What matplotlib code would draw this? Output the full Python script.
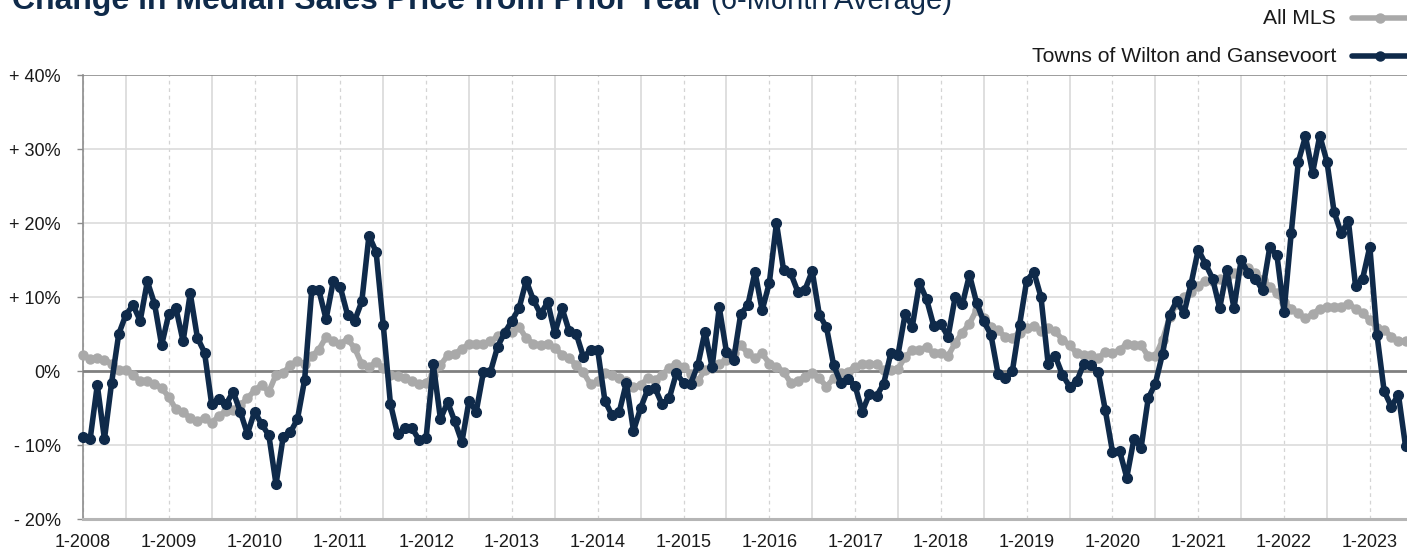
import matplotlib
matplotlib.use("Agg")
import matplotlib.pyplot as plt
from matplotlib.lines import Line2D
from matplotlib.ticker import FixedLocator
import numpy as np

# --- data: monthly values, Jan 2008 .. Jun 2023 (% change, 6-month avg) ---
all_mls = [
    2.2, 1.6, 1.8, 1.5, 1.0, 0.1, 0.1, -0.5, -1.4, -1.4, -1.7, -2.3,
    -3.5, -5.2, -5.5, -6.4, -6.7, -6.4, -7.0, -6.1, -5.4, -5.3, -4.6, -3.7,
    -2.6, -1.9, -2.8, -0.5, -0.3, 0.8, 1.3, 1.0, 2.0, 2.9, 4.6, 4.0,
    3.7, 4.3, 3.1, 0.9, 0.5, 1.2, 0.4, -0.5, -0.7, -0.9, -1.3, -1.7,
    -1.6, -0.5, 0.8, 2.1, 2.3, 3.0, 3.6, 3.6, 3.7, 4.0, 4.7, 5.3,
    5.3, 6.0, 4.4, 3.7, 3.5, 3.7, 3.1, 2.2, 1.7, 0.8, -0.2, -1.8,
    -1.4, -0.3, -0.6, -1.0, -1.3, -2.2, -1.9, -1.0, -1.2, -0.5, 0.4, 1.0,
    0.6, -0.4, -1.4, 0.2, 0.4, 1.0, 1.5, 2.4, 3.5, 2.4, 1.7, 2.4,
    1.0, 0.6, -0.1, -1.6, -1.3, -0.8, -0.3, -1.0, -2.1, -1.0, -0.3, -0.1,
    0.6, 0.9, 1.0, 0.9, 0.1, 0.2, 0.3, 1.9, 2.8, 2.9, 3.2, 2.4,
    2.5, 2.0, 3.8, 5.2, 6.4, 8.3, 7.1, 6.0, 5.5, 4.6, 4.5, 5.2,
    5.8, 6.1, 5.4, 5.8, 5.4, 4.2, 3.5, 2.4, 2.2, 2.2, 1.7, 2.6,
    2.5, 2.8, 3.7, 3.5, 3.5, 2.0, 2.0, 4.2, 7.3, 9.1, 10.0, 10.7,
    11.5, 12.1, 12.1, 12.5, 12.7, 13.2, 13.7, 13.9, 13.2, 12.3, 11.4, 10.5,
    9.3, 8.4, 7.8, 7.1, 7.7, 8.4, 8.6, 8.7, 8.7, 9.1, 8.4, 7.8,
    6.9, 5.8, 5.6, 4.6, 4.0, 4.0,
]

wilton = [
    -8.9, -9.2, -1.9, -9.2, -1.6, 5.0, 7.6, 8.9, 6.8, 12.1, 9.1, 3.5,
    7.7, 8.5, 4.0, 10.5, 4.5, 2.5, -4.5, -3.8, -4.5, -2.8, -5.5, -8.5,
    -5.5, -7.2, -8.7, -15.3, -8.9, -8.3, -6.5, -1.2, 11.0, 10.9, 7.0, 12.1,
    11.3, 7.6, 6.8, 9.4, 18.3, 16.1, 6.2, -4.4, -8.5, -7.7, -7.7, -9.3,
    -9.0, 0.9, -6.5, -4.2, -6.8, -9.6, -4.0, -5.5, -0.2, -0.1, 3.3, 5.2,
    6.8, 8.5, 12.2, 9.6, 7.7, 9.3, 5.1, 8.5, 5.4, 5.0, 1.9, 2.8,
    2.8, -4.0, -6.0, -5.6, -1.6, -8.1, -5.0, -2.5, -2.3, -4.5, -3.7, -0.3,
    -1.6, -1.7, 0.8, 5.3, 0.5, 8.6, 2.6, 1.5, 7.7, 8.9, 13.4, 8.2,
    11.9, 20.0, 13.6, 13.2, 10.7, 11.0, 13.5, 7.6, 5.9, 0.8, -1.6, -1.1,
    -2.0, -5.5, -3.1, -3.4, -1.7, 2.4, 2.2, 7.7, 6.0, 11.9, 9.7, 6.1,
    6.4, 4.6, 10.0, 9.0, 13.0, 9.2, 6.7, 4.9, -0.4, -1.0, 0.0, 6.2,
    12.2, 13.4, 10.0, 1.0, 2.0, -0.5, -2.1, -1.4, 1.0, 0.8, -0.1, -5.3,
    -10.9, -10.8, -14.4, -9.2, -10.4, -3.7, -1.7, 2.3, 7.6, 9.5, 7.8, 11.8,
    16.4, 14.5, 12.5, 8.5, 13.6, 8.5, 15.0, 13.2, 12.5, 10.9, 16.7, 15.7,
    8.0, 18.6, 28.3, 31.7, 26.8, 31.8, 28.3, 21.5, 18.6, 20.3, 11.5, 12.5,
    16.8, 4.9, -2.7, -4.8, -3.2, -10.2,
]

years = list(range(2008, 2024))
x_labels = [f"1-{y}" for y in years]
y_ticks = [-20, -10, 0, 10, 20, 30, 40]
y_labels = ["- 20%", "- 10%", "0%", "+ 10%", "+ 20%", "+ 30%", "+ 40%"]

NAVY = "#0f2a4a"
GRAY = "#a9a9a9"
TEXT = "#1a1a1a"

plt.rcParams["font.family"] = ["Liberation Sans", "DejaVu Sans"]

W, H = 1407, 550
fig = plt.figure(figsize=(W / 100, H / 100), dpi=100)
ax = fig.add_axes([83 / W, 1 - 519 / H, 1 - 83 / W, (519 - 75) / H])

months = np.arange(len(wilton))
ax.plot(months, all_mls, color=GRAY, lw=4, marker="o", ms=6.5,
        solid_capstyle="round", solid_joinstyle="round", zorder=4, clip_on=False)
ax.plot(months, wilton, color=NAVY, lw=4, marker="o", ms=7,
        solid_capstyle="round", solid_joinstyle="round", zorder=5, clip_on=False)

ax.set_xlim(0, 185.2)
ax.set_ylim(-20, 40)

# x axis: labels on Jan, solid grid on Jul, dashed grid on Jan
jan_pos = [12 * i for i in range(len(years))]
ax.xaxis.set_major_locator(FixedLocator(jan_pos))
ax.set_xticklabels(x_labels)
ax.xaxis.set_minor_locator(FixedLocator([6 + 12 * i for i in range(len(years))]))
ax.grid(True, axis="x", which="major", color="#d4d4d4", lw=0.9, ls=(0, (3, 3)))
ax.grid(True, axis="x", which="minor", color="#d9d9d9", lw=1.2, ls="-")
ax.tick_params(axis="x", which="both", length=0, pad=11, labelsize=13, labelcolor=TEXT)

ax.set_yticks(y_ticks)
ax.set_yticklabels(y_labels)
ax.tick_params(axis="y", length=4, width=1, color="#8c8c8c", pad=12,
               labelsize=13, labelcolor=TEXT)
for v in [-10, 10, 20, 30]:
    ax.axhline(v, color="#dcdcdc", lw=1.2, zorder=1)
ax.axhline(0, color="#808080", lw=2, zorder=3)
ax.axhline(40, color="#8c8c8c", lw=1.2, zorder=3)

for side in ["right", "top"]:
    ax.spines[side].set_visible(False)
ax.spines["left"].set_color("#8c8c8c")
ax.spines["left"].set_linewidth(1.2)
ax.spines["bottom"].set_color("#b5b5b5")
ax.spines["bottom"].set_linewidth(2.2)
ax.set_axisbelow(True)

# title (partly cut at the top, as in the source)
t1 = fig.text(12 / W, 1 - 9 / H, "Change in Median Sales Price from Prior Year",
              fontsize=23, fontweight="bold", color=NAVY, va="baseline",
              family=["Liberation Sans Narrow", "Liberation Sans"])
fig.canvas.draw()
bb = t1.get_window_extent()
fig.text((bb.x1 + 7) / W, 1 - 9 / H, "(6-Month Average)",
         fontsize=21, color=NAVY, va="baseline")

# legend, drawn at the top right
legend_items = [("All MLS", GRAY, 18), ("Towns of Wilton and Gansevoort", NAVY, 56)]
for label, col, ypix in legend_items:
    yf = 1 - ypix / H
    fig.text(1336 / W, yf, label, ha="right", va="center", fontsize=15.2, color=TEXT)
    fig.add_artist(Line2D([1352 / W, 1.02], [yf, yf], transform=fig.transFigure,
                          color=col, lw=4, solid_capstyle="round"))
    fig.add_artist(Line2D([1380 / W], [yf], transform=fig.transFigure,
                          color=col, marker="o", ms=6.5, lw=0))

fig.savefig("out.png", dpi=100)
